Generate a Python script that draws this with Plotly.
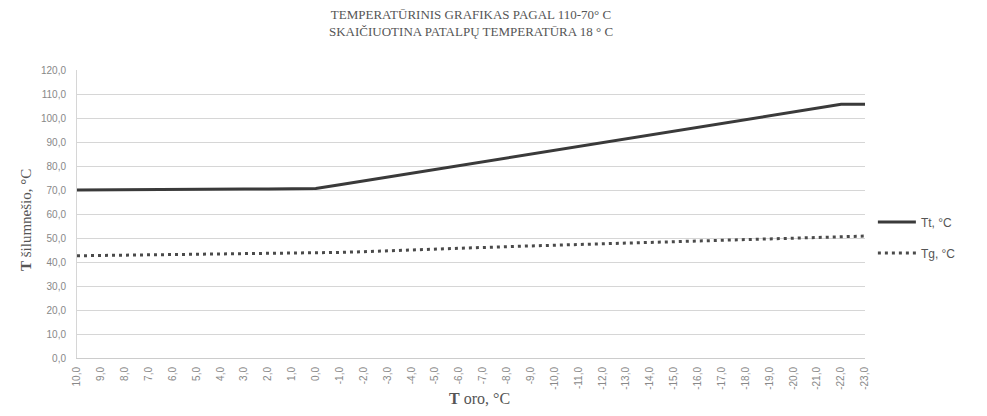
import plotly.graph_objects as go

outdoor = [10, 9, 8, 7, 6, 5, 4, 3, 2, 1, 0, -1, -2, -3, -4, -5, -6, -7, -8, -9, -10,
           -11, -12, -13, -14, -15, -16, -17, -18, -19, -20, -21, -22, -23]
x_labels = [f"{v:.1f}".replace(".", ",") for v in outdoor]

tt_values = [70.0, 70.1, 70.1, 70.2, 70.2, 70.3, 70.3, 70.4, 70.4, 70.5, 70.6,
             72.2, 73.8, 75.4, 77.0, 78.6, 80.2, 81.8, 83.4, 85.0, 86.6,
             88.2, 89.8, 91.4, 93.0, 94.6, 96.2, 97.8, 99.4, 101.0, 102.6,
             104.2, 105.7, 105.7]
tg_values = [42.6, 42.7, 42.8, 42.9, 43.0, 43.1, 43.2, 43.3, 43.4, 43.5, 43.6,
             44.0, 44.3, 44.7, 45.0, 45.4, 45.7, 46.0, 46.4, 46.7, 47.0,
             47.3, 47.6, 47.9, 48.2, 48.5, 48.8, 49.1, 49.4, 49.7, 50.0,
             50.3, 50.6, 50.8]

series_names = ["Tt, °C", "Tg, °C"]
title_lines = ["TEMPERATŪRINIS GRAFIKAS PAGAL 110-70° C",
               "SKAIČIUOTINA PATALPŲ TEMPERATŪRA 18 ° C"]
x_title = "<b>T</b> oro, °C"
y_title = "<b>T</b> šilumnešio, °C"

W, H = 971, 400
ML, MR, MT, MB = 69, 114, 62, 50
fig = go.Figure()
fig.add_trace(go.Scatter(x=x_labels, y=tt_values, mode="lines", name=series_names[0],
                         legendgroup="a",
                         line=dict(color="#3a3a3a", width=3)))
fig.add_trace(go.Scatter(x=x_labels, y=tg_values, mode="lines", name=series_names[1],
                         legendgroup="b",
                         line=dict(color="#4a4a4a", width=3, dash="3px,4px")))

# title (two lines)
fig.add_annotation(text="<br>".join(title_lines), xref="paper", yref="paper",
                   x=0.5, y=1.0, xanchor="center", yanchor="middle",
                   yshift=MT - 15, showarrow=False, align="center",
                   font=dict(family="Liberation Serif", size=13, color="#555555"))
# axis titles
fig.add_annotation(text=x_title, xref="paper", yref="paper", x=0.5, y=0.0,
                   xanchor="center", yanchor="middle", xshift=8, yshift=-40,
                   showarrow=False,
                   font=dict(family="Liberation Serif", size=16, color="#555555"))
fig.add_annotation(text=y_title, xref="paper", yref="paper", x=0.0, y=0.479,
                   xanchor="center", yanchor="middle", xshift=-51, textangle=-90,
                   showarrow=False,
                   font=dict(family="Liberation Serif", size=15, color="#555555"))

fig.update_layout(
    width=W, height=H,
    paper_bgcolor="white", plot_bgcolor="white",
    margin=dict(l=ML, r=MR, t=MT, b=MB, autoexpand=False),
    separators=", ",
    legend=dict(
        x=1.010, xanchor="left", y=0.418, yanchor="middle",
        font=dict(family="Liberation Sans", size=12, color="#555555"),
        tracegroupgap=12, bgcolor="rgba(0,0,0,0)", itemwidth=38,
    ),
    showlegend=True,
)
fig.update_xaxes(
    type="category", tickangle=-90, automargin=False,
    tickfont=dict(family="Liberation Sans", size=10, color="#888888"),
    showgrid=False, showline=True, linecolor="#cccccc", linewidth=1,
    ticks="", ticklabelstandoff=4,
)
fig.update_yaxes(
    range=[0, 120], dtick=10, tickformat=".1f", automargin=False,
    tickfont=dict(family="Liberation Sans", size=10, color="#888888"),
    showgrid=True, gridcolor="#d6d6d6", gridwidth=1,
    zeroline=False, showline=True, linecolor="#d6d6d6", linewidth=1,
    ticks="", ticklabelstandoff=8,
)

fig.write_html("out.html")
